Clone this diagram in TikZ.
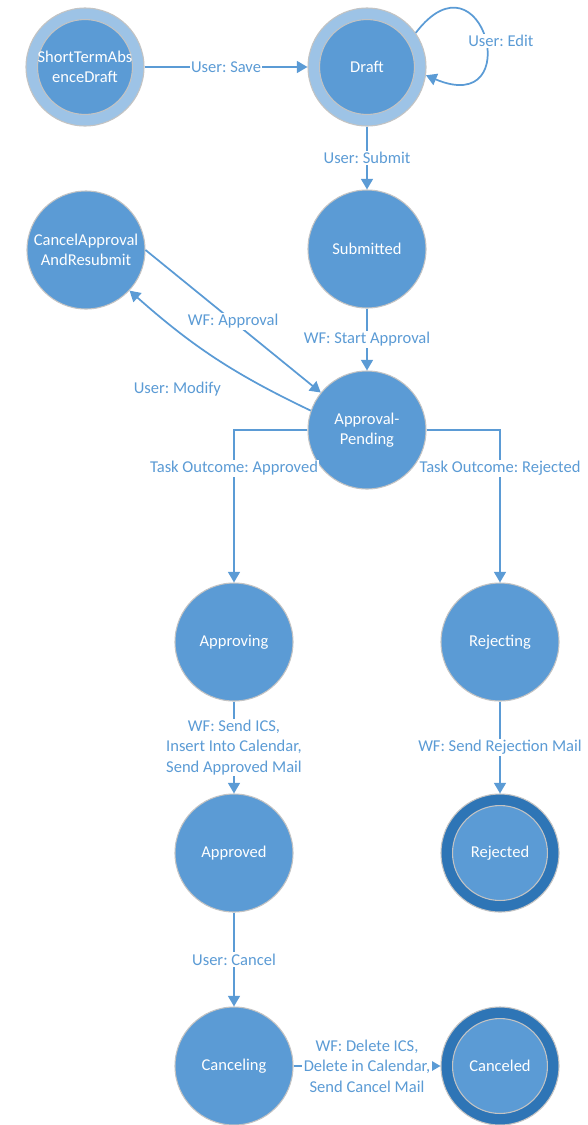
\documentclass[tikz,border=0pt]{standalone}
\usepackage{fontspec}
\setmainfont{Carlito}
\frenchspacing
\usetikzlibrary{arrows.meta}
\definecolor{stateblue}{HTML}{5B9BD5}
\definecolor{ringlight}{HTML}{9DC3E6}
\definecolor{ringdark}{HTML}{2E75B6}
\definecolor{rimgrey}{HTML}{C3C3C3}
\tikzstyle{state} = [circle, minimum size=88.5pt, inner sep=0pt, text centered, align=center, draw=rimgrey, line width=0.8pt, fill=stateblue, text=white, font=\fontsize{12.4}{15.4}\selectfont]
\tikzstyle{startstate} = [state, fill=ringlight, path picture={ \draw[rimgrey, line width=0.8pt, fill=stateblue] (path picture bounding box.center) circle (35.6pt); }]
\tikzstyle{endstate} = [state, fill=ringdark, path picture={ \draw[rimgrey, line width=0.8pt, fill=stateblue] (path picture bounding box.center) circle (35.6pt); }]
\tikzstyle{trans} = [-{Triangle[width=9pt, length=8pt]}, draw=stateblue, line width=1.3pt]
\tikzstyle{lbl} = [fill=white, text=stateblue, inner sep=1pt, align=center, font=\fontsize{12.4}{15.4}\selectfont]
\begin{document}
\begin{tikzpicture}[x=0.75pt, y=-0.75pt]
\useasboundingbox (0,0) rectangle (588,1125);
\node(sad)[startstate] at (85,67) {ShortTermAbs\\enceDraft};
\node(draft)[startstate] at (367,67) {Draft};
\node(submitted)[state] at (367,249) {Submitted};
\node(cancel)[state] at (86,250) {CancelApproval\\AndResubmit};
\node(pending)[state] at (367,430) {Approval-\\Pending};
\node(approving)[state] at (234,642) {Approving};
\node(rejecting)[state] at (500,642) {Rejecting};
\node(approved)[state] at (234,853) {Approved};
\node(rejected)[endstate] at (500,853) {Rejected};
\node(canceling)[state] at (234,1066) {Canceling};
\node(canceled)[endstate] at (500,1066) {Canceled};
\draw [trans]  (sad)  --  node[lbl]{User: Save} (draft);
\draw [trans]  (draft.35) .. controls +(67,-88) and +(102,43) .. node[lbl, pos=0.5, xshift=12.5pt, yshift=-3pt]{User: Edit} (draft.-8);
\draw [trans]  (draft)  --  node[lbl]{User: Submit} (submitted);
\draw [trans]  (submitted)  --  node[lbl]{WF: Start Approval} (pending);
\draw [trans]  (cancel.east)  --  node[lbl]{WF: Approval} (pending.141);
\draw [trans]  (pending.161) to[bend left=8] node[lbl, pos=0.6, xshift=-16pt, yshift=-32pt]{User: Modify} (cancel.-43);
\draw [trans]  (pending.west)  -|  node[lbl, pos=0.625]{Task Outcome: Approved} (approving);
\draw [trans]  (pending.east)  -|  node[lbl, pos=0.625]{Task Outcome: Rejected} (rejecting);
\draw [trans]  (approving)  --  node[lbl]{WF: Send ICS,\\Insert Into Calendar,\\Send Approved Mail} (approved);
\draw [trans]  (rejecting)  --  node[lbl]{WF: Send Rejection Mail} (rejected);
\draw [trans]  (approved)  --  node[lbl]{User: Cancel} (canceling);
\draw [trans]  (canceling)  --  node[lbl]{WF: Delete ICS,\\Delete in Calendar,\\Send Cancel Mail} (canceled);
\end{tikzpicture}
\end{document}
